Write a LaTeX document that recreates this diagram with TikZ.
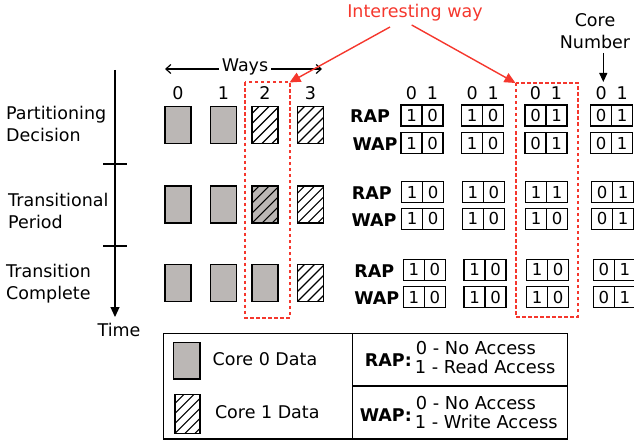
\documentclass[tikz,border=0pt]{standalone}
\usepackage{fontspec}
\setmainfont{DejaVu Sans}
\usetikzlibrary{arrows.meta}
\definecolor{cgray}{RGB}{187,183,181}
\definecolor{ired}{RGB}{245,55,45}
\tikzset{
  txt/.style={font=\fontsize{17.5}{22}\selectfont, inner sep=0pt},
  ltxt/.style={font=\fontsize{17.8}{22}\selectfont, inner sep=0pt},
  btxt/.style={font=\fontsize{17.5}{22}\selectfont\bfseries, inner sep=0pt},
  wayrect/.style={draw=black, line width=1.5pt, minimum width=26pt, minimum height=37pt, inner sep=0pt, outer sep=0pt},
  core0/.style={wayrect, fill=cgray},
  core1/.style={wayrect, fill=white},
  core01/.style={wayrect, fill=cgray},
  hatchline/.style={draw=black, line width=1.1pt},
  cell/.style={draw=black, line width=1.4pt, minimum width=21pt, minimum height=21pt, inner sep=0pt, outer sep=0pt, font=\fontsize{16.5}{18}\selectfont},
  redbox/.style={draw=ired, color=ired, line width=2pt, dash pattern=on 3.5pt off 2.5pt},
  redarrow/.style={draw=ired, line width=1.4pt, -{Triangle[length=11pt,width=10pt]}},
}
\newcommand\hatchit[1]{%
  \begin{scope}
    \clip (#1.south west) rectangle (#1.north east);
    \foreach \k in {-40,-30,...,30} {
      \draw[hatchline] ([xshift=\k pt]#1.south west) -- ++(45,-45);
    }
  \end{scope}
  \draw[line width=1.5pt] (#1.south west) rectangle (#1.north east);
}
\newcommand\bits[5]{%
  \node[cell, anchor=north west] (#1a) at (#2,#3) {#4};
  \node[cell, anchor=west] (#1b) at (#1a.east) {#5};
}
\begin{document}
\begin{tikzpicture}[x=1pt,y=-1pt]
\useasboundingbox (0,0) rectangle (634,441);

% time axis
\coordinate (ttop) at (115,70);
\coordinate (tend) at (115,317);
\coordinate (tk1a) at (103,164); \coordinate (tk1b) at (127,164);
\coordinate (tk2a) at (103,246); \coordinate (tk2b) at (127,246);
\draw[line width=1.2pt, -{Triangle[length=10pt,width=9pt]}] (ttop) -- (tend);
\draw[line width=1.2pt] (tk1a) -- (tk1b);
\draw[line width=1.2pt] (tk2a) -- (tk2b);
\node[txt] (time) at (119,330) {Time};
\node[txt, anchor=west, align=left] (ph1) at (6,124) {Partitioning\\Decision};
\node[txt, anchor=west, align=left] (ph2) at (8,210.5) {Transitional\\Period};
\node[txt, anchor=west, align=left] (ph3) at (6,283.5) {Transition\\Complete};

% ways
\node[txt] (ways) at (245,67) {Ways};
\coordinate (wl) at (165,69);
\coordinate (wr) at (322,69);
\draw[line width=1.2pt, -{Straight Barb[length=5pt,width=9pt]}] (ways.west |- wl) ++(-3,0) -- (wl);
\draw[line width=1.2pt, -{Straight Barb[length=5pt,width=9pt]}] (ways.east |- wr) ++(3,0) -- (wr);
\node[txt] (w0) at (178,93) {0};
\node[txt] (w1) at (223.5,93) {1};
\node[txt] (w2) at (265,93) {2};
\node[txt] (w3) at (310.5,93) {3};

% way rectangles
\node[core0] (r1c0) at (178,125) {};
\node[core0] (r1c1) at (223.5,125) {};
\node[core1] (r1c2) at (265,125) {};
\node[core1] (r1c3) at (310.5,125) {};
\node[core0] (r2c0) at (178,204.7) {};
\node[core0] (r2c1) at (223.5,204.7) {};
\node[core01] (r2c2) at (265,204.7) {};
\node[core1] (r2c3) at (310.5,204.7) {};
\node[core0] (r3c0) at (178,283) {};
\node[core0] (r3c1) at (223.5,283) {};
\node[core0] (r3c2) at (265,283) {};
\node[core1] (r3c3) at (310.5,283) {};
\hatchit{r1c2}
\hatchit{r1c3}
\hatchit{r2c2}
\hatchit{r2c3}
\hatchit{r3c3}

% red boxes
\coordinate (ib1nw) at (245,82.5);
\coordinate (ib1ne) at (289.5,82.5);
\coordinate (ib1se) at (289.5,317.5);
\coordinate (ib2nw) at (515.5,83);
\coordinate (ib2se) at (577.5,316.5);
\draw[redbox] (ib1nw) rectangle (ib1se);
\draw[redbox] (ib2nw) rectangle (ib2se);
\node[txt, text=ired] (iw) at (415,13) {Interesting way};
\coordinate (iwa) at (390,27);
\coordinate (iwb) at (411.7,25);
\draw[redarrow] (iwa) -- (ib1ne);
\draw[redarrow] (iwb) -- (ib2nw);

% core number
\node[txt, align=center] (cn) at (595,31.3) {Core\\Number};
\coordinate (cna) at (603.3,53);
\coordinate (cnb) at (603.3,82);
\draw[line width=1.2pt, -{Triangle[length=9pt,width=8pt]}] (cna) -- (cnb);

% headers
\foreach \x [count=\i] in {401,461.7,525,590.7} {
  \node[txt] (h\i a) at (\x+10.5,93) {0};
  \node[txt] (h\i b) at (\x+31.5,93) {1};
}

% RAP/WAP labels
\node[btxt] (rap1) at (370,116.5) {RAP};
\node[btxt] (wap1) at (375,144.5) {WAP};
\node[btxt] (rap2) at (371.7,193) {RAP};
\node[btxt] (wap2) at (374,220.5) {WAP};
\node[btxt] (rap3) at (374.3,271.5) {RAP};
\node[btxt] (wap3) at (376.7,298) {WAP};

% bit boxes row 1
\bits{a1r}{401}{105}{1}{0}
\bits{a1w}{401}{132.5}{1}{0}
\bits{b1r}{461.7}{105}{1}{0}
\bits{b1w}{461.7}{132.5}{1}{0}
\bits{c1r}{525}{105}{0}{1}
\bits{c1w}{525}{132.5}{0}{1}
\bits{d1r}{590.7}{105}{0}{1}
\bits{d1w}{590.7}{132.5}{0}{1}
% row 2
\bits{a2r}{401.7}{181.7}{1}{0}
\bits{a2w}{401.7}{208.3}{1}{0}
\bits{b2r}{462.3}{181.7}{1}{0}
\bits{b2w}{462.3}{208.3}{1}{0}
\bits{c2r}{525.7}{181.7}{1}{1}
\bits{c2w}{525.7}{208.3}{1}{0}
\bits{d2r}{591.7}{181.7}{0}{1}
\bits{d2w}{591.7}{208.3}{0}{1}
% row 3
\bits{a3r}{403.3}{259.3}{1}{0}
\bits{a3w}{403.3}{286.7}{1}{0}
\bits{b3r}{464}{259.3}{1}{0}
\bits{b3w}{464}{286.7}{1}{0}
\bits{c3r}{526.7}{259.3}{1}{0}
\bits{c3w}{526.7}{286.7}{1}{0}
\bits{d3r}{593.3}{259.3}{0}{1}
\bits{d3w}{593.3}{286.7}{0}{1}

% legend
\draw[line width=1.2pt] (163.3,333.3) rectangle (567.3,439);
\draw[line width=1.2pt] (352.7,333.3) -- (352.7,439);
\draw[line width=1.2pt] (352.7,386) -- (567.3,386);
\node[core0, minimum width=26.7pt, minimum height=36.7pt] (lg0) at (186.7,360.7) {};
\node[core1, minimum width=25pt, minimum height=39pt] (lg1) at (187.5,413.8) {};
\hatchit{lg1}
\node[txt] (lt0) at (265,359.3) {Core 0 Data};
\node[txt] (lt1) at (267.3,412.3) {Core 1 Data};
\node[btxt, anchor=east] (lrap) at (412,360) {RAP:};
\node[ltxt, anchor=west] (lr0) at (415.7,348.3) {0 - No Access};
\node[ltxt, anchor=west] (lr1) at (414.7,366.7) {1 - Read Access};
\node[btxt, anchor=east] (lwap) at (412,415) {WAP:};
\node[ltxt, anchor=west] (lw0) at (415.7,403.3) {0 - No Access};
\node[ltxt, anchor=west] (lw1) at (414.7,422.3) {1 - Write Access};
\end{tikzpicture}
\end{document}
